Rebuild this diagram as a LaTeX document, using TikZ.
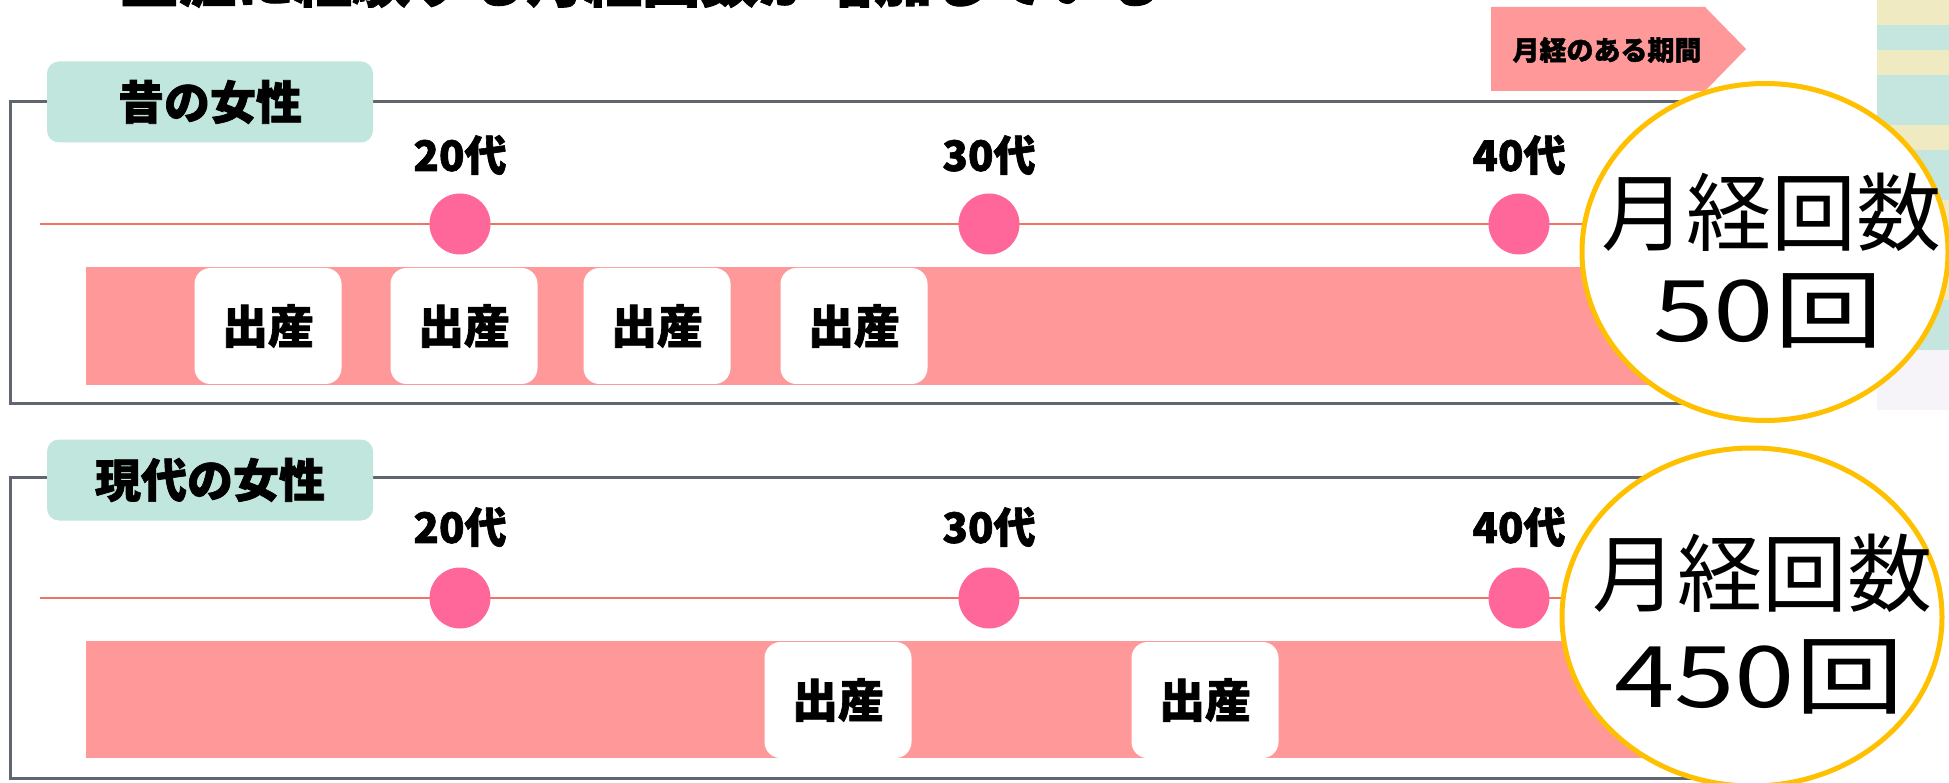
\documentclass[tikz,border=0pt]{standalone}
\usepackage{fontspec}
\setmainfont{Noto Sans CJK JP}[BoldFeatures={FakeBold=1.5}]
\usetikzlibrary{shapes.geometric}
\definecolor{tabc}{RGB}{193,230,221}
\definecolor{framec}{RGB}{95,102,112}
\definecolor{linec}{RGB}{238,116,99}
\definecolor{dotc}{RGB}{255,102,153}
\definecolor{barc}{RGB}{255,153,153}
\definecolor{ringc}{RGB}{255,192,0}
\definecolor{stripA}{RGB}{196,230,222}
\definecolor{stripB}{RGB}{240,234,194}
\definecolor{stripC}{RGB}{247,244,249}
\tikzset{
  panelframe/.style={draw=framec, line width=3pt},
  tabbox/.style={fill=tabc, rounded corners=12pt, minimum width=326pt, minimum height=81pt, inner sep=0pt, font=\fontsize{46}{50}\selectfont\bfseries},
  tline/.style={draw=linec, line width=2.5pt},
  agedot/.style={circle, fill=dotc, minimum size=61pt, inner sep=0pt},
  agelbl/.style={font=\fontsize{42}{46}\selectfont\bfseries, inner sep=0pt},
  birthbox/.style={fill=white, rounded corners=16pt, minimum width=147pt, minimum height=116pt, inner sep=0pt, font=\fontsize{46}{50}\selectfont\bfseries},
  ring/.style={ellipse, draw=ringc, line width=5pt, fill=white, inner sep=0pt},
  bigtxt/.style={font=\fontsize{85}{89}\selectfont, inner sep=0pt},
}
\begin{document}
\begin{tikzpicture}[x=1pt,y=-1pt]
\clip (0,0) rectangle (1949,783);
\fill[white] (0,0) rectangle (1949,783);
% right background strip
\foreach \i/\c in {0/stripB,1/stripA,2/stripB,3/stripA,4/stripA,5/stripB,6/stripA,7/stripA,8/stripB,9/stripA,10/stripA,11/stripB,12/stripA,13/stripA}
  \fill[\c] (1877,\i*25) rectangle (1949,\i*25+25);
\fill[stripC] (1877,350) rectangle (1949,410);
% clipped title
\node[anchor=base west, inner sep=0pt, font=\fontsize{58}{60}\selectfont\bfseries] (title) at (120,2) {生涯に経験する月経回数が増加している};
% legend
\fill[barc] (1491,7) -- (1705,7) -- (1746,49) -- (1705,91) -- (1491,91) -- cycle;
\node[font=\fontsize{27}{29}\selectfont\bfseries, inner sep=0pt] (legend) at (1607,50) {月経のある期間};
% ===== panel A =====
\draw[panelframe] (10,102) rectangle (1720,404);
\node[tabbox] (tabA) at (210,102) {昔の女性};
\coordinate (lA) at (40,224);
\coordinate (rA) at (1700,224);
\draw[tline] (lA) -- (rA);
\node[agedot] (dA20) at (460,224) {};
\node[agedot] (dA30) at (989,224) {};
\node[agedot] (dA40) at (1519,224) {};
\node[agelbl] (lA20) at (460,155) {20代};
\node[agelbl] (lA30) at (989,155) {30代};
\node[agelbl] (lA40) at (1519,155) {40代};
\fill[barc] (86,267) rectangle (1700,385);
\node[birthbox] (bA1) at (268,326) {出産};
\node[birthbox] (bA2) at (464,326) {出産};
\node[birthbox] (bA3) at (657,326) {出産};
\node[birthbox] (bA4) at (854,326) {出産};
% ===== panel B =====
\draw[panelframe] (10,477) rectangle (1720,778);
\node[tabbox] (tabB) at (210,480) {現代の女性};
\coordinate (lB) at (40,598);
\coordinate (rB) at (1700,598);
\draw[tline] (lB) -- (rB);
\node[agedot] (dB20) at (460,598) {};
\node[agedot] (dB30) at (989,598) {};
\node[agedot] (dB40) at (1519,598) {};
\node[agelbl] (lB20) at (460,527) {20代};
\node[agelbl] (lB30) at (989,527) {30代};
\node[agelbl] (lB40) at (1519,527) {40代};
\fill[barc] (86,641) rectangle (1700,758);
\node[birthbox] (bB1) at (838,700) {出産};
\node[birthbox] (bB2) at (1205,700) {出産};
% ===== count circles =====
\node[ring, minimum width=366pt, minimum height=337pt] (cA) at (1765,252) {};
\node[bigtxt] (cAt) at (1771,212) {月経回数};
\node[bigtxt] (cAn) at (1768,311) {\scalebox{1.28}[1]{50回}};
\node[ring, minimum width=380pt, minimum height=338pt] (cB) at (1752,617) {};
\node[bigtxt] (cBt) at (1762,573) {月経回数};
\node[bigtxt] (cBn) at (1759,677) {\scalebox{1.28}[1]{450回}};
\end{tikzpicture}
\end{document}
